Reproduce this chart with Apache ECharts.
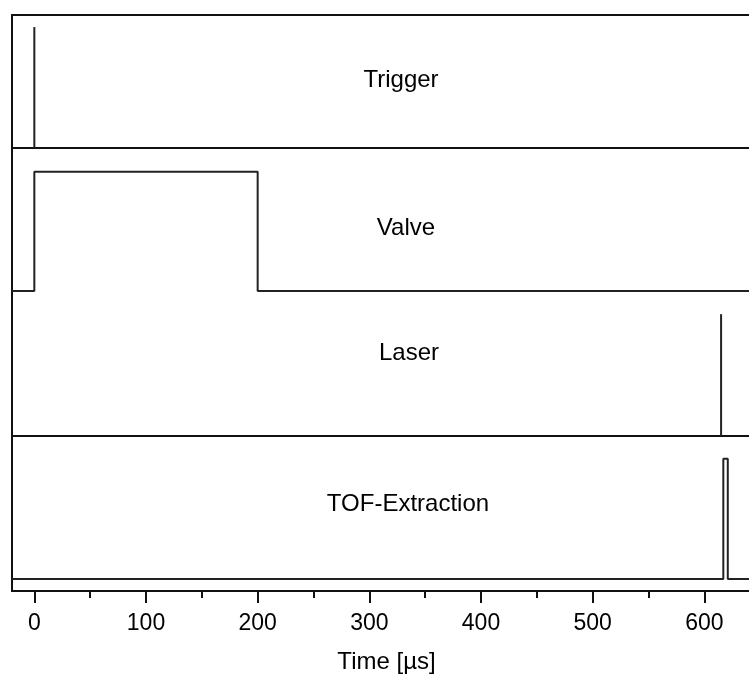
<!DOCTYPE html>
<html>
<head>
<meta charset="utf-8">
<script src="https://cdn.jsdelivr.net/npm/echarts@6/dist/echarts.min.js"></script>
<style>html,body{margin:0;padding:0;background:#fff;}#c{width:749px;height:675px;}</style>
</head>
<body>
<div id="c"></div>
<script>
// ---- data ----
const xMin = -20, xMax = 640;
const majorTicks = [0, 100, 200, 300, 400, 500, 600];
const minorTicks = [50, 150, 250, 350, 450, 550];
const panelLabels = ['Trigger', 'Valve', 'Laser', 'TOF-Extraction'];
const axisTitle = 'Time [\u00b5s]';

const triggerTime = [0, 0];
const triggerLevel = [0, 1];
const valveTime = [-20, 0, 0, 200, 200, 640];
const valveLevel = [0, 0, 1, 1, 0, 0];
const laserTime = [615, 615];
const laserLevel = [0, 1];
const tofTime = [-20, 617, 617, 621, 621, 640];
const tofLevel = [0, 0, 1, 1, 0, 0];

// ---- chart ----
const FONT = '"Liberation Sans", Arial, sans-serif';
const frame = { color: '#111', width: 2 };
const sig = { color: '#222', width: 2 };
const pair = (t, v) => t.map((x, i) => [x, v[i]]);

const grids = [
  { left: 12, right: 0, top: 15, height: 133 },
  { left: 12, right: 0, top: 148, height: 143 },
  { left: 12, right: 0, top: 291, height: 145 },
  { left: 12, right: 0, top: 436, height: 155 },
  { left: 12, right: 0, top: 436, height: 155 }
];
const yRanges = [[0, 1.1], [0, 1.2], [0, 1.19], [-0.1, 1.19], [-0.1, 1.19]];

function plainX(gi, pos, showLine) {
  return {
    type: 'value', gridIndex: gi, position: pos, min: xMin, max: xMax,
    axisLine: { show: showLine, onZero: false, lineStyle: frame },
    axisTick: { show: false }, axisLabel: { show: false }, splitLine: { show: false }
  };
}
const xAxes = [
  plainX(0, 'top', true),
  plainX(1, 'top', true),
  plainX(2, 'top', false),
  plainX(3, 'top', true),
  {
    type: 'value', gridIndex: 3, position: 'bottom', min: xMin, max: xMax,
    axisLine: { show: true, onZero: false, lineStyle: frame },
    axisTick: { show: true, inside: false, length: 12, customValues: majorTicks, lineStyle: { color: '#111', width: 2 } },
    axisLabel: { show: true, customValues: majorTicks, margin: 21, color: '#000', fontSize: 23, fontFamily: FONT },
    splitLine: { show: false },
    name: axisTitle, nameLocation: 'middle', nameGap: 59,
    nameTextStyle: { color: '#000', fontSize: 24, fontFamily: FONT, padding: [0, 0, 0, 12] }
  },
  {
    type: 'value', gridIndex: 4, position: 'bottom', min: xMin, max: xMax,
    axisLine: { show: true, onZero: false, lineStyle: frame },
    axisTick: { show: true, inside: false, length: 7, customValues: minorTicks, lineStyle: { color: '#111', width: 2 } },
    axisLabel: { show: false }, splitLine: { show: false }
  }
];
const yAxes = yRanges.map((r, i) => ({
  type: 'value', gridIndex: i, min: r[0], max: r[1],
  axisLine: { show: i < 4, lineStyle: frame, onZero: false },
  axisTick: { show: false }, axisLabel: { show: false }, splitLine: { show: false }
}));

function sigSeries(name, t, v, xi, yi) {
  return {
    name: name, type: 'line', xAxisIndex: xi, yAxisIndex: yi,
    data: pair(t, v), showSymbol: false, symbol: 'none', clip: false,
    lineStyle: sig, animation: false
  };
}

const labelPos = [[401, 80], [406, 228], [409, 353], [408, 504]];
const graphic = panelLabels.map((s, i) => ({
  type: 'text', x: labelPos[i][0], y: labelPos[i][1],
  style: { text: s, align: 'center', verticalAlign: 'middle', fill: '#000', font: '24px ' + FONT }
}));

const chart = echarts.init(document.getElementById('c'), null, { renderer: 'canvas' });
chart.setOption({
  animation: false,
  backgroundColor: '#fff',
  grid: grids,
  xAxis: xAxes,
  yAxis: yAxes,
  graphic: graphic,
  series: [
    sigSeries('Trigger', triggerTime, triggerLevel, 0, 0),
    sigSeries('Valve', valveTime, valveLevel, 1, 1),
    sigSeries('Laser', laserTime, laserLevel, 2, 2),
    sigSeries('TOF-Extraction', tofTime, tofLevel, 4, 3)
  ]
});
</script>
</body>
</html>
